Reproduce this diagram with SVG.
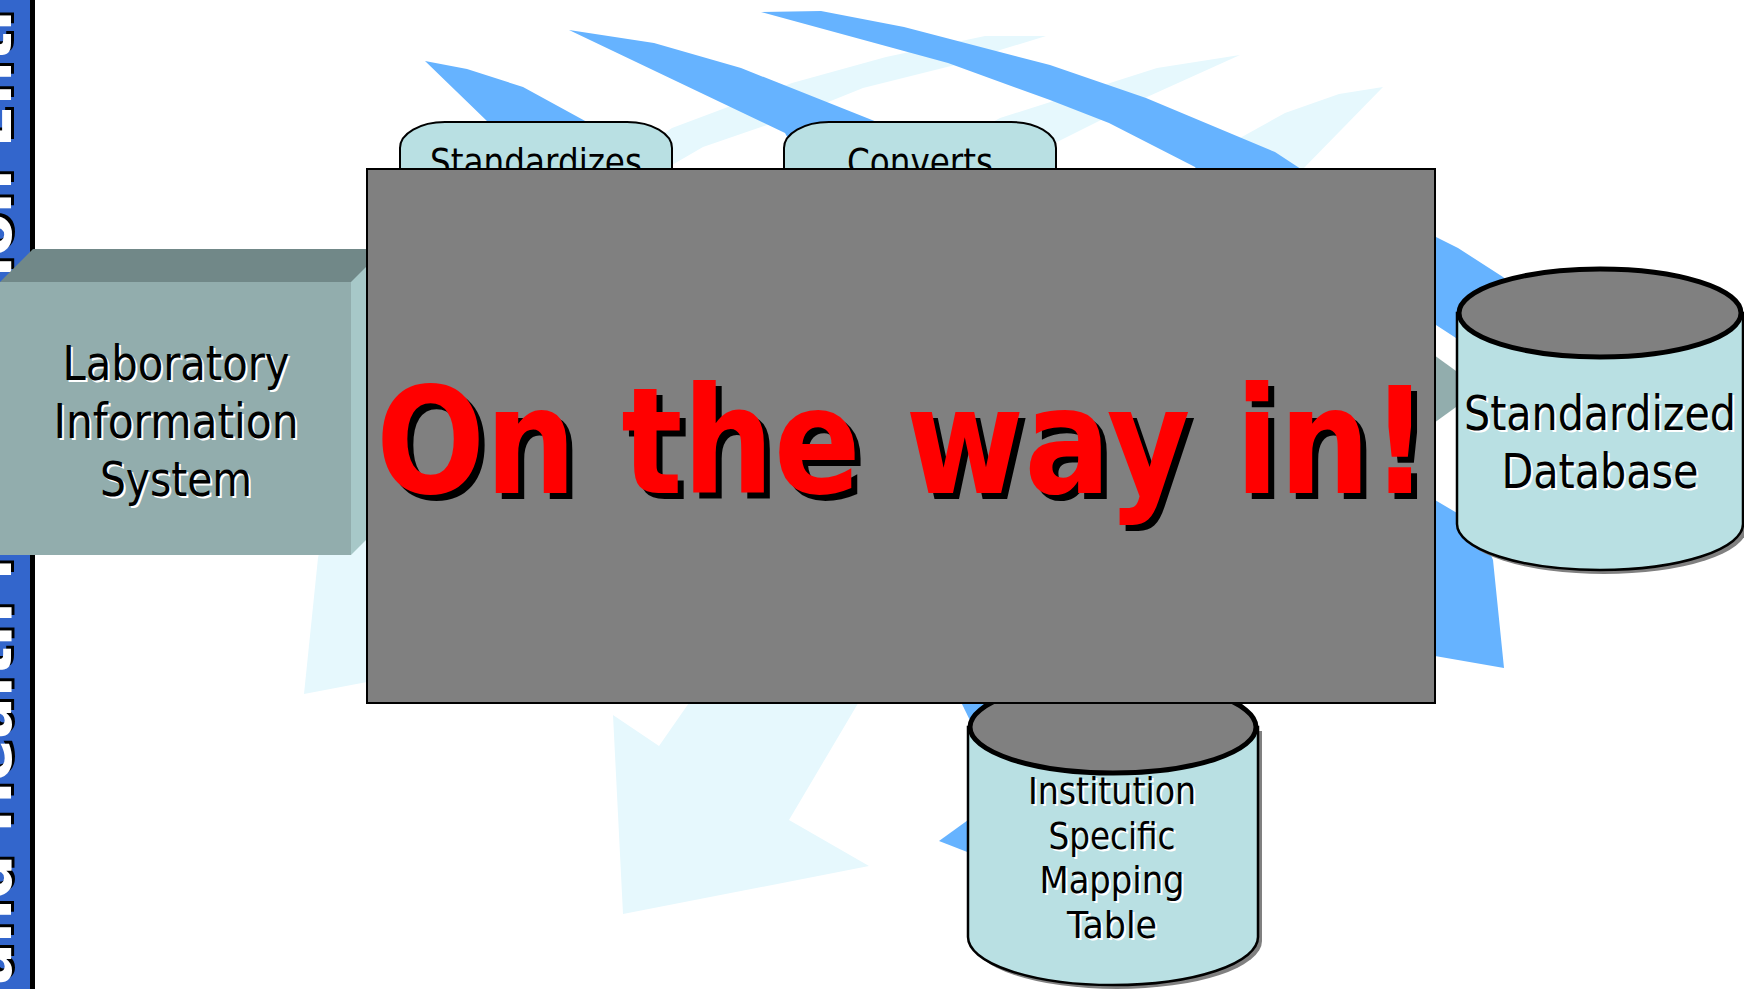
<svg xmlns="http://www.w3.org/2000/svg" width="1744" height="989" viewBox="0 0 1744 989">
<style>
.dark{fill:#66b3ff}
.light{fill:#e6f8fd}
.lbl{font-family:"DejaVu Sans","Liberation Sans",sans-serif;fill:#000;text-anchor:middle}
.lblsh{font-family:"DejaVu Sans","Liberation Sans",sans-serif;fill:#fff;text-anchor:middle}
.tab{fill:#b9e0e3;stroke:#000;stroke-width:2}
.body{fill:#b9e0e3;stroke:#000;stroke-width:2.5}
.lid{fill:#808080;stroke:#000;stroke-width:5}
.shadow{fill:#808080}
.big{font-family:"DejaVu Sans","Liberation Sans",sans-serif;font-weight:bold;font-size:148px}
.vt{font-family:"DejaVu Sans","Liberation Sans",sans-serif;font-weight:bold;font-size:62px}
</style>
<rect width="1744" height="989" fill="#fff"/>
<g id="connectors">
  <polygon class="light" points="1046,36 985,36 886,57 792,83 672,128 640,150 640,175 672,165 703,147 796,115 863,88 975,60 1000,50"/>
  <polygon class="light" points="1240,55 1157,68 1000,118 960,140 960,175 1057,142 1147,97"/>
  <polygon class="light" points="1383,87 1339,94 1285,113 1240,138 1195,172 1300,172"/>
  <polygon class="light" points="613,715 659,746 691,700 860,700 789,820 869,866 623,914"/>
  <polygon class="light" points="330,500 318,558 304,694 367,682 367,500"/>
  <polygon class="dark" points="425,61 467,69 523,87 587,122 610,150 500,150 488,122"/>
  <polygon class="dark" points="569,30 654,43 741,68 877,122 900,160 800,160 785,133"/>
  <polygon class="dark" points="761,12 821,11 904,27 1050,65 1146,98 1275,152 1310,175 1200,175 1195,167 1109,123 1050,100 948,63"/>
  <polygon class="dark" points="1420,228 1436,237 1458,248 1503,277 1560,330 1560,380 1456,338 1436,325 1420,318"/>
  <polygon class="dark" points="1420,490 1435,500 1457,513 1480,530 1493,560 1504,668 1435,656 1420,650"/>
  <polygon class="dark" points="960,700 1000,700 1000,745 982,745"/>
  <polygon class="dark" points="939,841 975,815 975,855"/>
  <polygon fill="#92adad" points="1380,316 1481,389 1380,462"/>
</g>
<g id="title-bar">
  <rect x="0" y="0" width="31" height="989" fill="#3366cc"/>
  <text class="vt" transform="translate(14,982) rotate(-90)" fill="#000">and Health Information Entry</text>
  <text class="vt" transform="translate(11,985) rotate(-90)" fill="#fff">and Health Information Entry</text>
  <rect x="30" y="0" width="5" height="989" fill="#000"/>
</g>
<g id="lis">
  <polygon fill="#718888" points="33,249 400,249 367,282 0,282"/>
  <polygon fill="#a7c8c8" points="351,282 384,249 384,522 351,555"/>
  <rect x="0" y="282" width="351" height="273" fill="#92adad"/>
  <g font-size="48">
    <text class="lblsh" x="178" y="382" textLength="227" lengthAdjust="spacingAndGlyphs">Laboratory</text>
    <text class="lbl" x="176" y="380" textLength="227" lengthAdjust="spacingAndGlyphs">Laboratory</text>
    <text class="lblsh" x="178" y="440" textLength="245" lengthAdjust="spacingAndGlyphs">Information</text>
    <text class="lbl" x="176" y="438" textLength="245" lengthAdjust="spacingAndGlyphs">Information</text>
    <text class="lblsh" x="178" y="498" textLength="152" lengthAdjust="spacingAndGlyphs">System</text>
    <text class="lbl" x="176" y="496" textLength="152" lengthAdjust="spacingAndGlyphs">System</text>
  </g>
</g>
<g id="tab-standardizes">
  <rect class="tab" x="400" y="122" width="272" height="100" rx="45" ry="26"/>
  <text class="lbl" x="536" y="175" font-size="38" textLength="212" lengthAdjust="spacingAndGlyphs">Standardizes</text>
</g>
<g id="tab-converts">
  <rect class="tab" x="784" y="122" width="272" height="100" rx="45" ry="26"/>
  <text class="lbl" x="920" y="175" font-size="38" textLength="146" lengthAdjust="spacingAndGlyphs">Converts</text>
</g>
<g id="mapping-table">
  <path class="shadow" d="M972,731 V941 A145,48 0 0 0 1262,941 V731 Z"/>
  <path class="body" d="M968,727 V937 A145,48 0 0 0 1258,937 V727 Z"/>
  <ellipse class="lid" cx="1113" cy="727" rx="143" ry="46"/>
  <g font-size="38">
    <text class="lblsh" x="1114" y="806" textLength="168" lengthAdjust="spacingAndGlyphs">Institution</text>
    <text class="lbl" x="1112" y="804" textLength="168" lengthAdjust="spacingAndGlyphs">Institution</text>
    <text class="lblsh" x="1114" y="851" textLength="127" lengthAdjust="spacingAndGlyphs">Specific</text>
    <text class="lbl" x="1112" y="849" textLength="127" lengthAdjust="spacingAndGlyphs">Specific</text>
    <text class="lblsh" x="1114" y="895" textLength="145" lengthAdjust="spacingAndGlyphs">Mapping</text>
    <text class="lbl" x="1112" y="893" textLength="145" lengthAdjust="spacingAndGlyphs">Mapping</text>
    <text class="lblsh" x="1114" y="940" textLength="90" lengthAdjust="spacingAndGlyphs">Table</text>
    <text class="lbl" x="1112" y="938" textLength="90" lengthAdjust="spacingAndGlyphs">Table</text>
  </g>
</g>
<g id="overlay">
  <rect x="367" y="169" width="1068" height="534" fill="#808080" stroke="#000" stroke-width="2"/>
  <text class="big" x="382" y="499" fill="#000" textLength="1053" lengthAdjust="spacingAndGlyphs">On the way in!</text>
  <text class="big" x="376" y="493" fill="#ff0000" textLength="1053" lengthAdjust="spacingAndGlyphs">On the way in!</text>
</g>
<g id="std-db">
  <path class="shadow" d="M1461,317 V528 A143,46 0 0 0 1747,528 V317 Z"/>
  <path class="body" d="M1457,313 V524 A143,46 0 0 0 1743,524 V313 Z"/>
  <ellipse class="lid" cx="1600" cy="313" rx="141" ry="44"/>
  <text class="lblsh" x="1602" y="432" font-size="48" textLength="272" lengthAdjust="spacingAndGlyphs">Standardized</text>
  <text class="lbl" x="1600" y="430" font-size="48" textLength="272" lengthAdjust="spacingAndGlyphs">Standardized</text>
  <text class="lblsh" x="1602" y="490" font-size="48" textLength="197" lengthAdjust="spacingAndGlyphs">Database</text>
  <text class="lbl" x="1600" y="488" font-size="48" textLength="197" lengthAdjust="spacingAndGlyphs">Database</text>
</g>
</svg>
